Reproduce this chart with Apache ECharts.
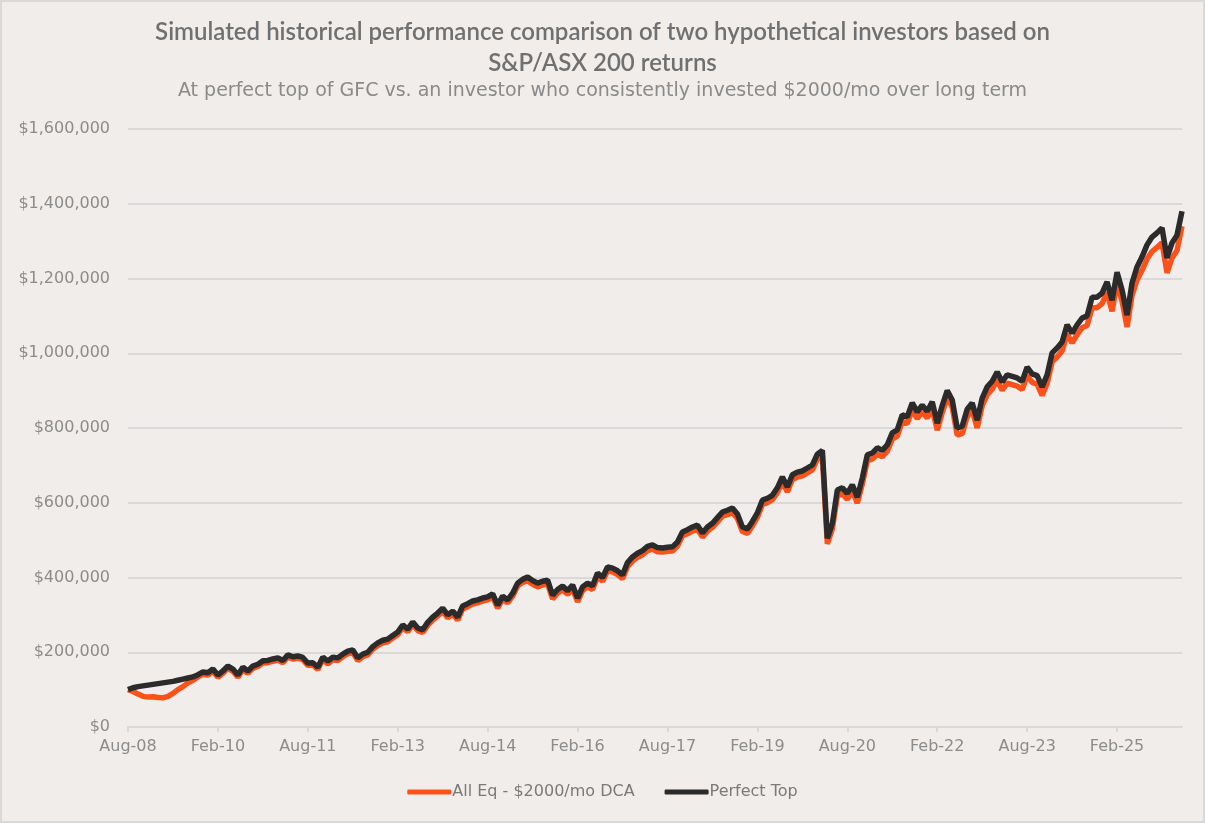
<!DOCTYPE html>
<html>
<head>
<meta charset="utf-8">
<script src="https://cdn.jsdelivr.net/npm/echarts@6/dist/echarts.min.js"></script>
<style>
  html, body { margin: 0; padding: 0; background: #f0edea; }
  #chart { width: 1205px; height: 823px; }
</style>
</head>
<body>
<div id="chart"></div>
<script>
// monthly points, Aug-08 .. Mar-26 (values in $ thousands)
const startYear = 2008;
const startMonth = 7; // Aug (0-based)
const pointCount = 212;

const perfectTop = [
  100, 105, 108, 110, 112, 114, 116, 118, 120, 122,
  125, 128, 131, 134, 140, 147, 145, 155, 139, 150,
  163, 155, 139, 160, 150, 163, 168, 177, 178, 182,
  185, 178, 193, 188, 190, 186, 171, 172, 160, 187,
  176, 187, 185, 195, 203, 206, 185, 195, 200, 215,
  225, 232, 235, 245, 254, 273, 262, 281, 265, 260,
  280, 294, 305, 318, 300, 310, 294, 324, 330, 337,
  340, 345, 348, 356, 326, 350, 340, 358, 385, 395,
  401, 392, 385, 390, 393, 353, 368, 377, 365, 380,
  345, 375, 385, 378, 412, 400, 428, 425, 418, 407,
  440, 455, 465, 472, 483, 487, 480, 479, 481, 482,
  495, 522, 528, 535, 540, 519, 535, 545, 560, 575,
  580, 586, 570, 535, 530, 550, 573, 607, 612, 620,
  640, 669, 642, 675, 682, 685, 693, 701, 730, 740,
  505, 545, 634, 640, 625, 648, 615, 666, 728, 733,
  747, 740, 755, 787, 795, 835, 830, 867, 843, 861,
  845, 870, 813, 860, 900, 875, 800, 805, 850, 867,
  821, 880, 910, 925, 950, 923, 942, 938, 934, 925,
  963, 945, 940, 910, 942, 1001, 1014, 1030, 1076, 1054,
  1076, 1094, 1100, 1150, 1150, 1161, 1191, 1142, 1217, 1169,
  1102, 1188, 1231, 1258, 1290, 1311, 1322, 1335, 1255, 1295,
  1316, 1380
];

const dcaInvestor = [
  100, 95, 88, 82, 80, 81, 79, 78, 82, 90,
  100, 108, 118, 125, 134, 141, 139, 149, 133, 144,
  157, 149, 133, 154, 144, 157, 162, 171, 172, 176,
  179, 172, 187, 182, 184, 180, 165, 166, 154, 181,
  169, 180, 178, 188, 196, 199, 178, 188, 193, 208,
  218, 225, 228, 238, 247, 266, 255, 274, 258, 253,
  272, 286, 297, 310, 292, 302, 286, 316, 322, 329,
  332, 337, 340, 348, 318, 342, 332, 350, 377, 387,
  391, 382, 375, 380, 383, 343, 358, 367, 355, 370,
  335, 365, 375, 368, 402, 390, 418, 415, 408, 397,
  429, 444, 454, 461, 472, 476, 469, 468, 470, 471,
  484, 511, 517, 524, 529, 508, 524, 534, 549, 564,
  568, 574, 558, 523, 518, 538, 561, 595, 600, 608,
  627, 656, 629, 662, 669, 672, 680, 688, 716, 726,
  490, 530, 618, 624, 609, 632, 599, 650, 712, 717,
  730, 723, 738, 770, 778, 818, 812, 849, 825, 843,
  827, 851, 794, 841, 881, 856, 781, 785, 830, 847,
  800, 859, 889, 904, 928, 901, 920, 916, 912, 903,
  940, 922, 917, 887, 919, 977, 990, 1006, 1051, 1028,
  1050, 1068, 1074, 1122, 1122, 1133, 1163, 1112, 1188, 1140,
  1070, 1155, 1196, 1222, 1252, 1272, 1283, 1296, 1215, 1255,
  1275, 1340
];

const seriesNames = ['All Eq - $2000/mo DCA', 'Perfect Top'];
const monthNames = ['Jan', 'Feb', 'Mar', 'Apr', 'May', 'Jun', 'Jul', 'Aug', 'Sep', 'Oct', 'Nov', 'Dec'];

let categories = [];
for (let i = 0; i < pointCount; i++) {
    const m = startMonth + i;
    const y = startYear + Math.floor(m / 12);
    categories.push(monthNames[m % 12] + '-' + String(y).slice(2));
}

const chartDom = document.getElementById('chart');
let myChart = echarts.init(chartDom);
let option;

const textGrey = '#8c8c8c';
const colors = ['#fc5119', '#2b2b2b'];

option = {
    backgroundColor: '#f0edea',
    animation: false,
    color: colors,
    title: {
        text: 'Simulated historical performance comparison of two hypothetical investors based on\nS&P/ASX 200 returns',
        subtext: 'At perfect top of GFC vs. an investor who consistently invested $2000/mo over long term',
        left: 'center',
        top: 12,
        itemGap: 3,
        textStyle: {
            fontFamily: 'Lato',
            fontSize: 24,
            fontWeight: 600,
            color: '#707070',
            lineHeight: 31
        },
        subtextStyle: {
            fontFamily: 'DejaVu Sans',
            fontSize: 19,
            color: '#8a8a8a'
        }
    },
    legend: {
        bottom: 18,
        left: 'center',
        itemGap: 30,
        itemWidth: 44,
        itemHeight: 5,
        icon: 'roundRect',
        data: seriesNames,
        textStyle: {
            fontFamily: 'DejaVu Sans',
            fontSize: 16,
            color: '#7a7a7a',
            padding: [0, 0, 0, -4]
        }
    },
    grid: {
        left: 128,
        right: 23,
        top: 129,
        bottom: 96
    },
    xAxis: {
        type: 'category',
        boundaryGap: false,
        data: categories,
        axisLine: {
            lineStyle: { color: '#d9d9d9', width: 2 }
        },
        axisTick: {
            interval: 17,
            length: 5,
            lineStyle: { color: '#d9d9d9', width: 2 }
        },
        axisLabel: {
            interval: 17,
            margin: 12,
            fontFamily: 'DejaVu Sans',
            fontSize: 16,
            color: textGrey
        }
    },
    yAxis: {
        type: 'value',
        min: 0,
        max: 1600000,
        interval: 200000,
        axisLine: { show: false },
        axisTick: { show: false },
        axisLabel: {
            margin: 18,
            fontFamily: 'DejaVu Sans',
            fontSize: 16,
            color: textGrey,
            formatter: function (v) {
                return '$' + v.toLocaleString('en-US');
            }
        },
        splitLine: {
            lineStyle: { color: '#d9d9d9', width: 2 }
        }
    },
    series: [
        {
            name: seriesNames[0],
            type: 'line',
            showSymbol: false,
            lineStyle: { width: 5.5, color: colors[0] },
            data: dcaInvestor.map(v => v * 1000)
        },
        {
            name: seriesNames[1],
            type: 'line',
            showSymbol: false,
            lineStyle: { width: 5.5, color: colors[1] },
            data: perfectTop.map(v => v * 1000)
        }
    ],
    graphic: [
        {
            type: 'rect',
            silent: true,
            shape: { x: 1, y: 1, width: 1203, height: 821 },
            style: { fill: 'none', stroke: '#d9d9d9', lineWidth: 2 }
        }
    ]
};

option && myChart.setOption(option);
</script>
</body>
</html>
